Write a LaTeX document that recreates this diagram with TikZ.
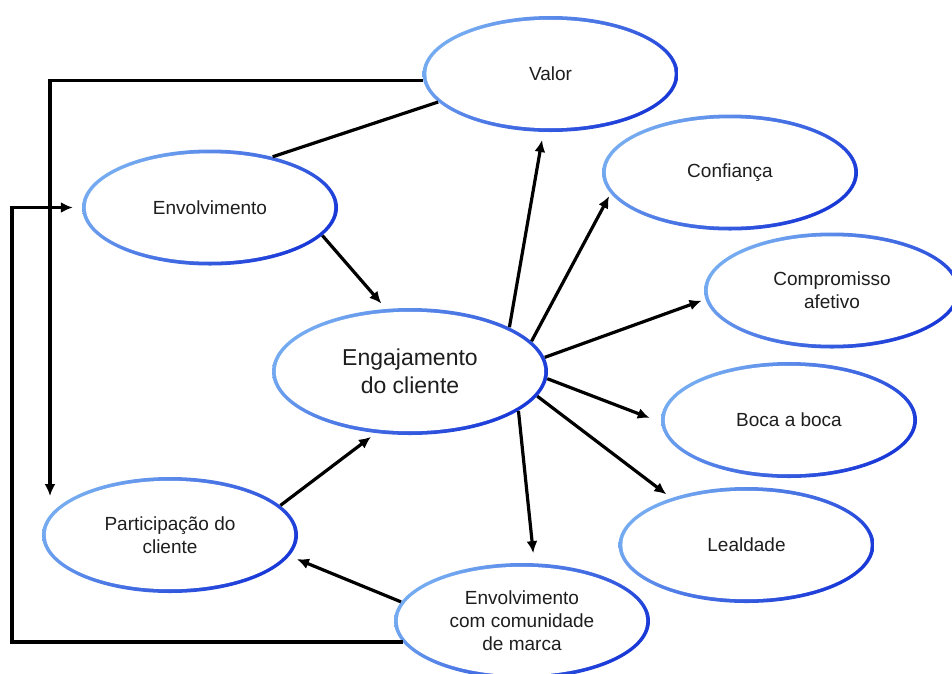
\documentclass[tikz,border=0pt]{standalone}
\usepackage{fontspec}
\setmainfont{Liberation Sans}
\usepackage{xcolor}
\usepackage{tikz}
\usetikzlibrary{shapes.geometric,arrows.meta,calc}
\definecolor{lite}{HTML}{74AAF0}
\definecolor{deep}{HTML}{1A3AD8}
\definecolor{ink}{HTML}{1E1E1E}

\begin{document}
\begin{tikzpicture}[x=1pt, y=-1pt,
      bubble/.style={ellipse, minimum width=256pt, minimum height=116pt,
        inner sep=0pt, align=center, text=ink, font=\fontsize{19}{23}\selectfont,
        path picture={
          \shade[top color=lite, bottom color=deep, shading angle=45]
            (path picture bounding box.south west) rectangle (path picture bounding box.north east);
          \fill[white] let \p1=(path picture bounding box.north east),
            \p2=(path picture bounding box.center) in
            (\p2) ellipse [x radius=\x1-\x2-3.8pt, y radius=\y1-\y2-3.8pt];
        }},
      big/.style={minimum width=276pt, minimum height=127pt, font=\fontsize{23}{28}\selectfont},
      arr/.style={line width=3.2pt, -{Latex[length=12pt,width=11pt]}}]
      \useasboundingbox (0,0) rectangle (952,673);

      \node[bubble] (valor) at (550.5,74) {Valor};
      \node[bubble] (env) at (210,207.5) {Envolvimento};
      \node[bubble,big] (eng) at (410,371.5) {Engajamento\\do cliente};
      \node[bubble] (conf) at (730,172.5) {Confiança};
      \node[bubble] (comp) at (832,290.5) {Compromisso\\afetivo};
      \node[bubble] (boca) at (789,420) {Boca a boca};
      \node[bubble] (leal) at (746.5,545) {Lealdade};
      \node[bubble] (part) at (170,535) {Participação do\\cliente};
      \node[bubble] (com) at (522,621) {Envolvimento\\com comunidade\\de marca};

      % antecedentes
      \draw[line width=3.2pt] (valor.194) -- (env.39);
      \draw[arr, shorten >=7pt] (env.-14.5) -- (eng.111);
      \draw[arr, shorten >=6pt] (part.15) -- (eng.241);
      \draw[arr, shorten >=8pt] (com.171) -- (part.-10);
      \draw[arr, shorten >=39pt] (valor.183) -| ([xshift=-120pt]part.center);
      \draw[arr, shorten >=9pt] (com.190) -| ([xshift=-198pt]env.center) -- (env.west);

      % consequentes
      \draw[arr, shorten >=8pt] (eng.24.5) -- (valor.263.5);
      \draw[arr, shorten >=3pt] (eng.14.4) -- (conf.190.4);
      \draw[arr, shorten >=4pt] (eng.6.1) -- (comp.184.2);
      \draw[arr, shorten >=12pt] (eng.-3.5) -- (boca.181);
      \draw[arr, shorten >=6pt] (eng.-11.7) -- (leal.148.5);
      \draw[arr, shorten >=10pt] (eng.-20.2) -- (com.78.9);
      \end{tikzpicture}
\end{document}
